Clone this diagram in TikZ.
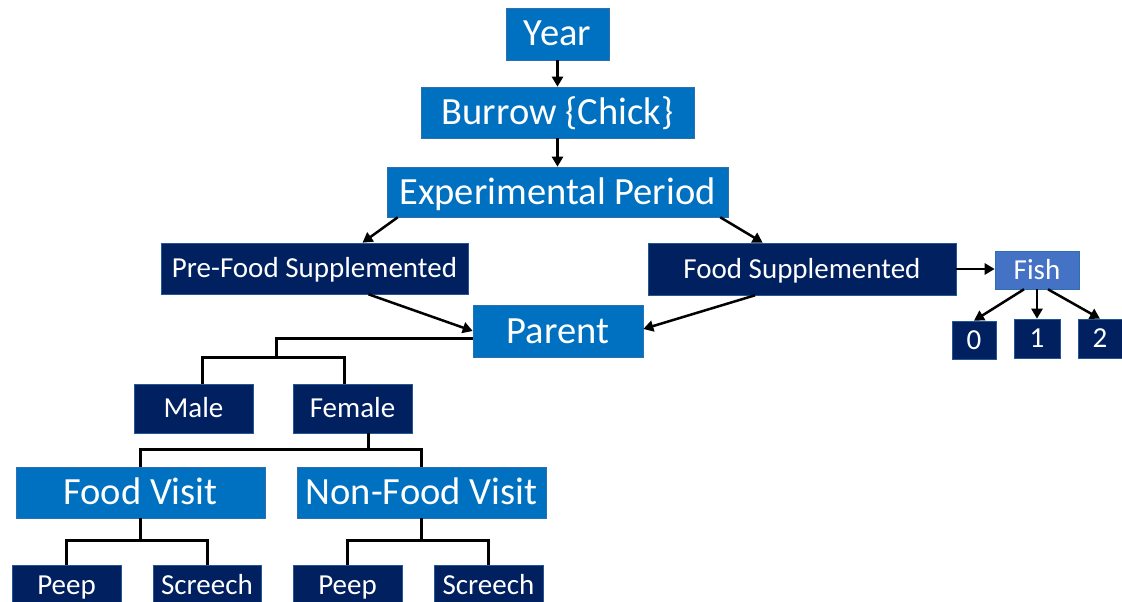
\documentclass[tikz,border=0pt]{standalone}
\usepackage{fontspec}
\setmainfont{Carlito}
\usetikzlibrary{calc,arrows.meta}
\definecolor{midblue}{HTML}{0070C0}
\definecolor{navy}{HTML}{002060}
\definecolor{fishblue}{HTML}{4472C4}
\definecolor{edgeblue}{HTML}{2F6FAF}
\tikzset{
  boxbase/.style={text=white, inner sep=0pt, line width=0.6pt, text depth=0pt},
  bigbox/.style={boxbase, fill=midblue, draw=edgeblue, text height=24pt, font=\fontsize{38.5}{40}\selectfont},
  smallbox/.style={boxbase, fill=navy, draw=edgeblue!70!navy, text height=18pt, font=\fontsize{29}{30}\selectfont},
  fishbox/.style={boxbase, fill=fishblue, draw=edgeblue, text height=18pt, font=\fontsize{29}{30}\selectfont},
  arr/.style={line width=2.5pt, -{Triangle[length=10pt,width=11pt]}},
  tree/.style={line width=3pt}
}
\begin{document}
\begin{tikzpicture}[x=1pt,y=-1pt]
\useasboundingbox (0,0) rectangle (1122,602);
% top chain
\node[bigbox, minimum width=103pt, minimum height=52pt] (year) at (557.5,34) {Year};
\node[bigbox, minimum width=273pt, minimum height=51pt] (burrow) at (557.5,112.5) {Burrow \{Chick\}};
\node[bigbox, minimum width=341pt, minimum height=50pt] (exp) at (557.5,192) {Experimental Period};
\node[smallbox, minimum width=307pt, minimum height=51pt] (pre) at (314.5,268.5) {Pre-Food Supplemented};
\node[smallbox, minimum width=308pt, minimum height=52pt] (fs) at (802,269) {Food Supplemented};
\node[fishbox, minimum width=84pt, minimum height=38pt] (fish) at (1037,270) {Fish};
\node[smallbox, minimum width=44pt, minimum height=38pt] (n0) at (974,340) {0};
\node[smallbox, minimum width=46pt, minimum height=39pt] (n1) at (1037,338.5) {1};
\node[smallbox, minimum width=44pt, minimum height=39pt] (n2) at (1100,338.5) {2};
\node[bigbox, minimum width=170pt, minimum height=52pt] (parent) at (558,331) {Parent};
\node[smallbox, minimum width=119pt, minimum height=49pt] (male) at (193.5,408.5) {Male};
\node[smallbox, minimum width=119pt, minimum height=49pt] (female) at (352.5,408.5) {Female};
\node[bigbox, minimum width=249pt, minimum height=51pt] (fv) at (140.5,492.5) {Food Visit};
\node[bigbox, minimum width=249pt, minimum height=51pt] (nfv) at (421.5,492.5) {Non-Food Visit};
\node[smallbox, minimum width=109pt, minimum height=40pt] (p1) at (66.5,585) {Peep};
\node[smallbox, minimum width=108pt, minimum height=40pt] (s1) at (207,585) {Screech};
\node[smallbox, minimum width=109pt, minimum height=40pt] (p2) at (347.5,585) {Peep};
\node[smallbox, minimum width=109pt, minimum height=40pt] (s2) at (488.5,585) {Screech};
% arrows
\draw[arr] (year.south) -- (burrow.north);
\draw[arr] (burrow.south) -- (exp.north);
\draw[arr] ($(exp.south west)+(11,0)$) -- ($(pre.north)+(48,0)$);
\draw[arr] ($(exp.south east)+(-8,0)$) -- ($(fs.north west)+(115,0)$);
\draw[arr] ($(pre.south)+(54,0)$) -- (parent.west);
\draw[arr] ($(fs.south)+(-47,0)$) -- ($(parent.east)+(0,-2)$);
\draw[arr] (fs.east) -- (fs.east -| fish.west);
\draw[arr] ($(fish.south)+(-13,0)$) -- (n0.north);
\draw[arr] (fish.south) -- (n1.north);
\draw[arr] ($(fish.south)+(11,0)$) -- (n2.north);
% tree connectors
\coordinate (pj) at (276,358);
\draw[tree] ($(parent.west)+(0,7)$) -| (pj);
\draw[tree] ($(male.north)+(8.5,0)$) |- ($(female.north)+(-8.5,-26)$) -- ($(female.north)+(-8.5,0)$);
\draw[tree] ($(female.south)+(15.5,0)$) -- ++(0,17);
\draw[tree] (fv.north) |- ($(nfv.north)+(0,-17)$) -- (nfv.north);
\draw[tree] (fv.south) -- ++(0,23);
\draw[tree] (p1.north) |- ($(s1.north)+(0,-24)$) -- (s1.north);
\draw[tree] (nfv.south) -- ++(0,23);
\draw[tree] (p2.north) |- ($(s2.north)+(0,-24)$) -- (s2.north);
\end{tikzpicture}
\end{document}
